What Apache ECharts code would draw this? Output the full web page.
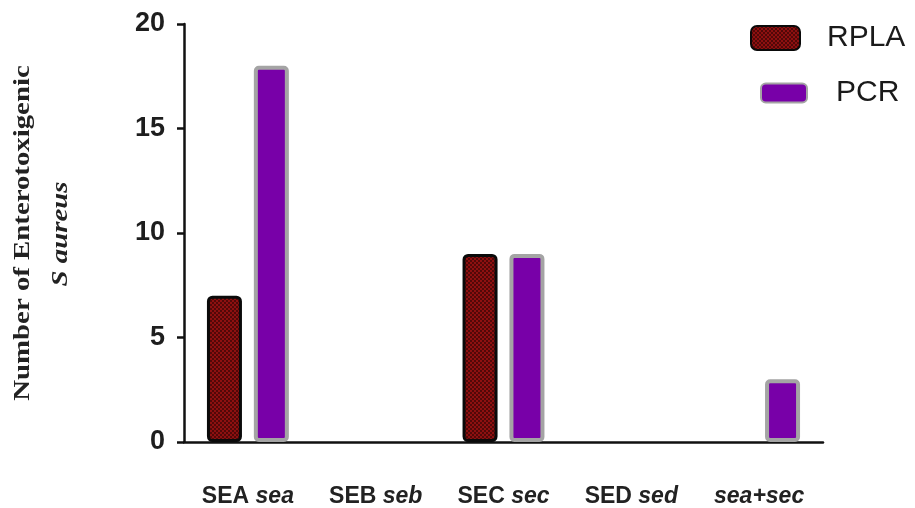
<!DOCTYPE html>
<html>
<head>
<meta charset="utf-8">
<script src="https://cdn.jsdelivr.net/npm/echarts@6/dist/echarts.min.js"></script>
<style>
html,body{margin:0;padding:0;background:#fff;}
#chart{width:915px;height:508px;}
</style>
</head>
<body>
<div id="chart"></div>
<script>
const categories = ['SEA sea', 'SEB seb', 'SEC sec', 'SED sed', 'sea+sec'];
const rplaValues = [7, 0, 9, 0, 0];
const pcrValues = [18, 0, 9, 0, 3];
const yTicks = { min: 0, max: 20, interval: 5 };
const seriesNames = ['RPLA', 'PCR'];

// checkered dark red pattern for RPLA
const pc = document.createElement('canvas');
pc.width = 4; pc.height = 4;
const g = pc.getContext('2d');
g.fillStyle = '#140000'; g.fillRect(0, 0, 4, 4);
g.fillStyle = '#8e1010';
g.fillRect(0, 0, 2, 2); g.fillRect(2, 2, 2, 2);
g.fillStyle = '#520808';
g.fillRect(2, 0, 2, 2); g.fillRect(0, 2, 2, 2);
const rplaPattern = { image: pc, repeat: 'repeat' };

const chart = echarts.init(document.getElementById('chart'), null, { renderer: 'canvas' });

function catFmt(v) {
  const parts = v.split(' ');
  if (parts.length === 2) return parts[0] + ' {i|' + parts[1] + '}';
  return '{i|' + v + '}';
}
function toData(arr) {
  return arr.map(v => v === 0 ? { value: v, itemStyle: { borderWidth: 0, opacity: 0 } } : v);
}

chart.setOption({
  animation: false,
  backgroundColor: '#ffffff',
  grid: { left: 184, right: 92, top: 24, bottom: 66 },
  legend: [
    {
      data: [seriesNames[0]], left: 750, top: 23, padding: 0, orient: 'vertical',
      itemWidth: 49, itemHeight: 24,
      textStyle: { fontFamily: 'Liberation Sans, Arial', fontSize: 30, color: '#1a1a1a', padding: [0, 0, 0, 22] }
    },
    {
      data: [seriesNames[1]], left: 760, top: 78, padding: 0, orient: 'vertical',
      itemWidth: 46, itemHeight: 19,
      textStyle: { fontFamily: 'Liberation Sans, Arial', fontSize: 30, color: '#1a1a1a', padding: [0, 0, 0, 24] }
    }
  ],
  xAxis: {
    type: 'category',
    data: categories,
    axisLine: { lineStyle: { color: '#111', width: 2.5 } },
    axisTick: { alignWithLabel: true, length: 9, lineStyle: { color: '#111', width: 2.5 } },
    axisLabel: {
      interval: 0,
      margin: 43,
      formatter: catFmt,
      fontFamily: 'Liberation Sans, Arial',
      fontSize: 23, fontWeight: 'bold', color: '#222',
      rich: { i: { fontFamily: 'Liberation Sans, Arial', fontSize: 23, fontWeight: 'bold', fontStyle: 'italic', color: '#222' } }
    }
  },
  yAxis: {
    type: 'value',
    min: yTicks.min, max: yTicks.max, interval: yTicks.interval,
    splitLine: { show: false },
    axisLine: { show: true, lineStyle: { color: '#111', width: 2.5 } },
    axisTick: { show: true, length: 7, lineStyle: { color: '#111', width: 2.5 } },
    axisLabel: { margin: 19, fontFamily: 'Liberation Sans, Arial', fontSize: 27, fontWeight: 'bold', color: '#1e1e1e' }
  },
  graphic: [
    {
      type: 'text', x: 23, y: 233, rotation: Math.PI / 2, scaleX: 1.2,
      style: { text: 'Number of Enterotoxigenic', font: 'bold 24px "Liberation Serif", "Times New Roman", serif', fill: '#222', align: 'center', verticalAlign: 'middle' }
    },
    {
      type: 'text', x: 61, y: 234, rotation: Math.PI / 2, scaleX: 1.2,
      style: { text: 'S aureus', font: 'italic bold 24px "Liberation Serif", "Times New Roman", serif', fill: '#222', align: 'center', verticalAlign: 'middle' }
    }
  ],
  series: [
    {
      name: seriesNames[0], type: 'bar', data: toData(rplaValues),
      barWidth: 35, barGap: '34%',
      itemStyle: { color: rplaPattern, borderColor: '#0a0a0a', borderWidth: 3, borderRadius: 4 }
    },
    {
      name: seriesNames[1], type: 'bar', data: toData(pcrValues),
      barWidth: 35,
      itemStyle: { color: '#7800a8', borderColor: '#a4a4a4', borderWidth: 4, borderRadius: 3 }
    }
  ]
});
</script>
</body>
</html>
